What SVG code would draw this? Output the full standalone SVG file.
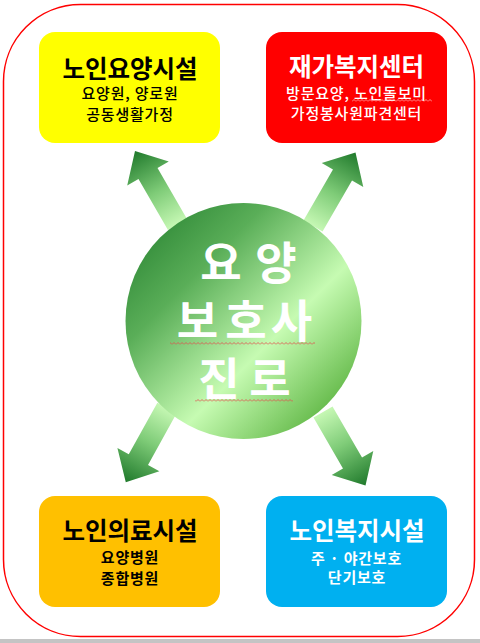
<svg xmlns="http://www.w3.org/2000/svg" width="480" height="643" viewBox="0 0 480 643">
<style>
text{font-family:"Noto Sans CJK KR","Noto Sans",sans-serif;text-anchor:middle}
.title{font-size:24.5px;font-weight:700}
.sub{font-size:15px;font-weight:500;letter-spacing:0.8px}
.big{font-size:45px;font-weight:700;fill:#ffffff}
.dark{fill:#000000}
.light{fill:#ffffff}
.arrow{fill:url(#ag)}
</style>
<defs>
<linearGradient id="cg" x1="0" y1="0" x2="1" y2="1">
<stop offset="0" stop-color="#1e7a2a"/>
<stop offset="0.3" stop-color="#5aae58"/>
<stop offset="0.6" stop-color="#c6fbb2"/>
<stop offset="0.85" stop-color="#6cbf52"/>
<stop offset="1" stop-color="#2c8a1a"/>
</linearGradient>
<linearGradient id="ag" gradientUnits="userSpaceOnUse" x1="0" y1="0" x2="85" y2="0">
<stop offset="0" stop-color="#c6f8b4"/>
<stop offset="0.45" stop-color="#7fcc78"/>
<stop offset="1" stop-color="#207a2c"/>
</linearGradient>
<pattern id="sq" width="4" height="3" patternUnits="userSpaceOnUse">
<path d="M0,2.5 L2,0.5 L4,2.5" fill="none" stroke="#e24a4a" stroke-width="0.8"/>
</pattern>
<pattern id="sqw" width="4" height="3" patternUnits="userSpaceOnUse">
<path d="M0,2.5 L2,0.5 L4,2.5" fill="none" stroke="#ffb4b4" stroke-width="0.8"/>
</pattern>
</defs>
<rect width="480" height="643" fill="#ffffff"/>
<rect x="3.5" y="4.5" width="471" height="632" rx="77" ry="77" fill="none" stroke="#ff0000" stroke-width="1.5"/>
<rect x="0" y="639" width="480" height="4" fill="#c4c4c4"/>
<g id="connectors">
<path class="arrow" transform="translate(177.5,224.5) rotate(-120)" d="M0,-11 H59 V-24 L85,0 L59,24 V11 H0 Z"/>
<path class="arrow" transform="translate(313,226) rotate(-60)" d="M0,-11 H59 V-24 L85,0 L59,24 V11 H0 Z"/>
<path class="arrow" transform="translate(167,408) rotate(119)" d="M0,-11 H59 V-24 L85,0 L59,24 V11 H0 Z"/>
<path class="arrow" transform="translate(323,412) rotate(60)" d="M0,-11 H59 V-24 L85,0 L59,24 V11 H0 Z"/>
</g>
<g id="center">
<circle cx="243.5" cy="321" r="118" fill="url(#cg)"/>
<text class="big" x="221 276" y="280">요양</text>
<text class="big" x="197.5 246 291.5" y="338">보호사</text>
<text class="big" x="219 270" y="396">진로</text>
<rect x="170" y="342" width="145" height="3" fill="url(#sq)"/>
<rect x="195" y="399" width="98" height="3" fill="url(#sq)"/>
</g>
<g id="node-nursing">
<rect x="39" y="32" width="181" height="111" rx="16" fill="#ffff00"/>
<text class="title dark" x="130" y="78">노인요양시설</text>
<text class="sub dark" x="130" y="98.5">요양원, 양로원</text>
<text class="sub dark" x="130" y="119.5">공동생활가정</text>
</g>
<g id="node-homecare">
<rect x="266" y="32" width="181" height="111" rx="16" fill="#ff0000"/>
<text class="title light" x="356.5" y="76">재가복지센터</text>
<text class="sub light" x="356.5" y="98.5">방문요양, 노인돌보미</text>
<text class="sub light" x="356.5" y="118.5">가정봉사원파견센터</text>
<rect x="352" y="99" width="80" height="3" fill="url(#sqw)"/>
</g>
<g id="node-medical">
<rect x="39" y="496" width="181" height="111" rx="16" fill="#ffc000"/>
<text class="title dark" x="130" y="540">노인의료시설</text>
<text class="sub dark" x="130" y="562.5" style="font-weight:700">요양병원</text>
<text class="sub dark" x="130" y="583.5" style="font-weight:700">종합병원</text>
</g>
<g id="node-welfare">
<rect x="266" y="496" width="181" height="111" rx="16" fill="#00b0f0"/>
<text class="title light" x="357" y="540">노인복지시설</text>
<text class="sub light" x="356.5" y="563.5" style="font-weight:700">주 · 야간보호</text>
<text class="sub light" x="357" y="582.5" style="font-weight:700">단기보호</text>
</g>
</svg>
